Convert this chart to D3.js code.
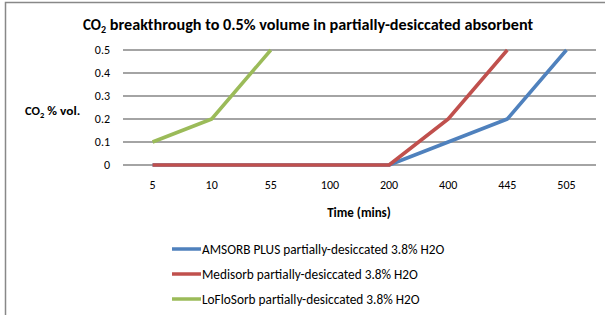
<!DOCTYPE html>
<html><head><meta charset="utf-8">
<script src="https://cdn.jsdelivr.net/npm/d3@7"></script>
<style>body{margin:0;background:#fff}svg{display:block}text{font-family:Carlito,Lato,"Open Sans",sans-serif}</style>
</head><body><svg id="c" width="605" height="315"></svg>
<script>
const categories = ["5","10","55","100","200","400","445","505"];
const amsorb = [0,0,0,0,0,0.1,0.2,0.5];
const medisorb = [0,0,0,0,0,0.2,0.5];
const loflosorb = [0.1,0.2,0.5];
const yTicks = [0,0.1,0.2,0.3,0.4,0.5];
const seriesNames = ["AMSORB PLUS partially-desiccated 3.8% H2O","Medisorb partially-desiccated 3.8% H2O","LoFloSorb partially-desiccated 3.8% H2O"];
const colors = ["#4F81BD","#C0504D","#9BBB59"];
const series = [amsorb, medisorb, loflosorb];

const svg = d3.select("#c");
svg.append("rect").attr("x",5.5).attr("y",2.5).attr("width",610).attr("height",330)
  .attr("fill","#fff").attr("stroke","#888").attr("stroke-width",1.5);

const x = d3.scaleBand().domain(categories).range([123,596]);
const y = d3.scaleLinear().domain([0,0.5]).range([165,50]);

svg.append("g").selectAll("line").data(yTicks).join("line")
  .attr("x1",123).attr("x2",596).attr("y1",d=>y(d)).attr("y2",d=>y(d))
  .attr("stroke","#868686").attr("stroke-width",1.3);

const yAxis = svg.append("g").attr("transform","translate(123,0)")
  .call(d3.axisLeft(y).tickValues(yTicks).tickSize(0).tickPadding(13).tickFormat(d3.format("")));
yAxis.select(".domain").remove();
yAxis.selectAll("text").attr("font-size",12).attr("fill","#000").style("font-family","Carlito,Lato,sans-serif");

const xAxis = svg.append("g").attr("transform","translate(0,165)")
  .call(d3.axisBottom(x).tickSize(0).tickPadding(15));
xAxis.select(".domain").remove();
xAxis.selectAll("text").attr("font-size",12).attr("fill","#000").style("font-family","Carlito,Lato,sans-serif");

const line = d3.line().x((d,i)=>x(categories[i])+x.bandwidth()/2).y(d=>y(d));
series.forEach((s,k)=>{
  svg.append("path").datum(s).attr("d",line).attr("fill","none")
    .attr("stroke",colors[k]).attr("stroke-width",3.5).attr("stroke-linejoin","round");
});

const title = svg.append("text").attr("x",83).attr("y",30)
  .attr("font-size",15).attr("font-weight","bold");
title.append("tspan").text("CO");
title.append("tspan").attr("font-size",10).attr("dy",3).text("2");
title.append("tspan").attr("dy",-3).attr("textLength",427).attr("lengthAdjust","spacingAndGlyphs")
  .text(" breakthrough to 0.5% volume in partially-desiccated absorbent");

const yt = svg.append("text").attr("x",25).attr("y",115).attr("font-size",12.5).attr("font-weight","bold");
yt.append("tspan").text("CO");
yt.append("tspan").attr("font-size",8.5).attr("dy",2.5).text("2");
yt.append("tspan").attr("dy",-2.5).attr("textLength",36).attr("lengthAdjust","spacingAndGlyphs").text(" % vol.");

svg.append("text").attr("x",359).attr("y",217).attr("text-anchor","middle")
  .attr("font-size",13).attr("font-weight","bold").text("Time (mins)");

const leg = svg.append("g");
seriesNames.forEach((n,k)=>{
  const yy = 249 + k*25;
  leg.append("line").attr("x1",172).attr("x2",201).attr("y1",yy).attr("y2",yy)
    .attr("stroke",colors[k]).attr("stroke-width",3.5);
  leg.append("text").attr("x",202).attr("y",yy+4.5).attr("font-size",13.3).text(n);
});
</script></body></html>
